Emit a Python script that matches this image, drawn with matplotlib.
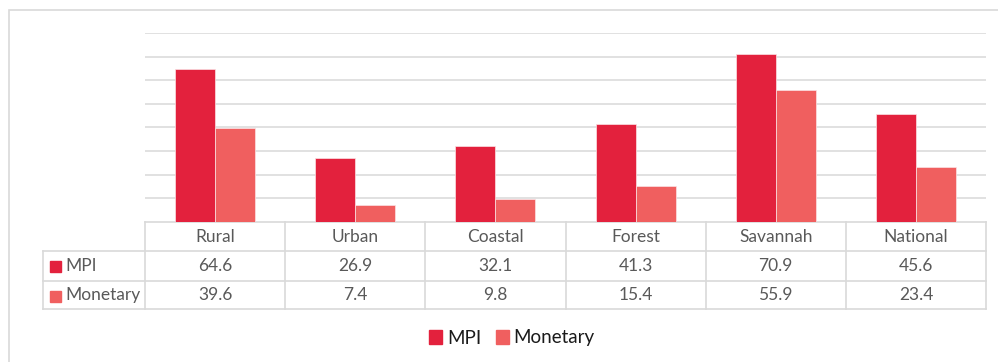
import numpy as np
import matplotlib
matplotlib.use('Agg')
import matplotlib.pyplot as plt
from matplotlib.patches import Rectangle
from matplotlib.lines import Line2D

regions = ['Rural', 'Urban', 'Coastal', 'Forest', 'Savannah', 'National']
mpi = [64.6, 26.9, 32.1, 41.3, 70.9, 45.6]
monetary = [39.6, 7.4, 9.8, 15.4, 55.9, 23.4]
series = [('MPI', mpi, '#e3213d'), ('Monetary', monetary, '#f05f5f')]

plt.rcParams['font.family'] = ['Lato', 'DejaVu Sans']
W, H = 998, 362
fig = plt.figure(figsize=(W / 100, H / 100), dpi=100)
grid_c = '#d9d9d9'
text_c = '#595959'

# outer chart frame (runs off the right and bottom edges)
fig.add_artist(Rectangle((8.5 / W, -0.1), 1.2, 1.1 - 10.5 / H, transform=fig.transFigure,
                         fill=False, ec=grid_c, lw=1.2))

left, right, top, bot = 145, 986, 33, 222
ax = fig.add_axes([left / W, 1 - bot / H, (right - left) / W, (bot - top) / H])
x = np.arange(len(regions))
bw = 0.285
for i, (name, vals, col) in enumerate(series):
    ax.bar(x + (i - 0.5) * bw, vals, bw, color=col, edgecolor='#fbe3e5', linewidth=0.5, zorder=3)
ax.set_xlim(-0.5, len(regions) - 0.5)
ax.set_ylim(0, 80)
ax.set_yticks(np.arange(10, 81, 10))
ax.yaxis.grid(True, color=grid_c, lw=1.1, zorder=0)
ax.tick_params(left=False, bottom=False, labelleft=False, labelbottom=False)
for s in ax.spines.values():
    s.set_visible(False)

# data table under the plot, in axes-y units below the axis
ph = bot - top
rows_px = [222, 251, 281, 309]
ry = [-(r - bot) / ph for r in rows_px]
trans = ax.get_xaxis_transform()
lab_x = (43 - left) / ((right - left) / len(regions)) - 0.5
edges = np.arange(len(regions) + 1) - 0.5
kw = dict(transform=trans, clip_on=False, color=grid_c, lw=1.2)
ax.add_line(Line2D([edges[0], edges[-1]], [ry[0], ry[0]], **kw))
for yy in ry[1:]:
    ax.add_line(Line2D([lab_x, edges[-1]], [yy, yy], **kw))
for e in edges:
    ax.add_line(Line2D([e, e], [ry[0], ry[-1]], **kw))
ax.add_line(Line2D([lab_x, lab_x], [ry[1], ry[-1]], **kw))

fs = 12.5
for i, r in enumerate(regions):
    ax.text(i, (ry[0] + ry[1]) / 2, r, transform=trans, ha='center', va='center',
            fontsize=fs, color=text_c)
for j, (name, vals, col) in enumerate(series):
    yc = (ry[j + 1] + ry[j + 2]) / 2
    for i, v in enumerate(vals):
        ax.text(i, yc, f'{v:.1f}', transform=trans, ha='center', va='center',
                fontsize=fs, color=text_c)
    fig.add_artist(Rectangle((50 / W, 1 - (rows_px[j + 1] + 21) / H), 11 / W, 11 / H,
                             transform=fig.transFigure, color=col))
    fig.text(65 / W, 1 - (rows_px[j + 1] + rows_px[j + 2]) / 2 / H, name, ha='left',
             va='center', fontsize=fs, color=text_c)

# legend
handles = [Rectangle((0, 0), 1, 1, color=col) for _, _, col in series]
fig.legend(handles, [s[0] for s in series], loc='center', bbox_to_anchor=(512 / W, 1 - 338 / H),
           ncol=2, frameon=False, fontsize=13.5, handlelength=0.68, handleheight=0.7,
           handletextpad=0.25, columnspacing=0.8, labelcolor='#1a1a1a')

fig.savefig('out.png', dpi=100)
